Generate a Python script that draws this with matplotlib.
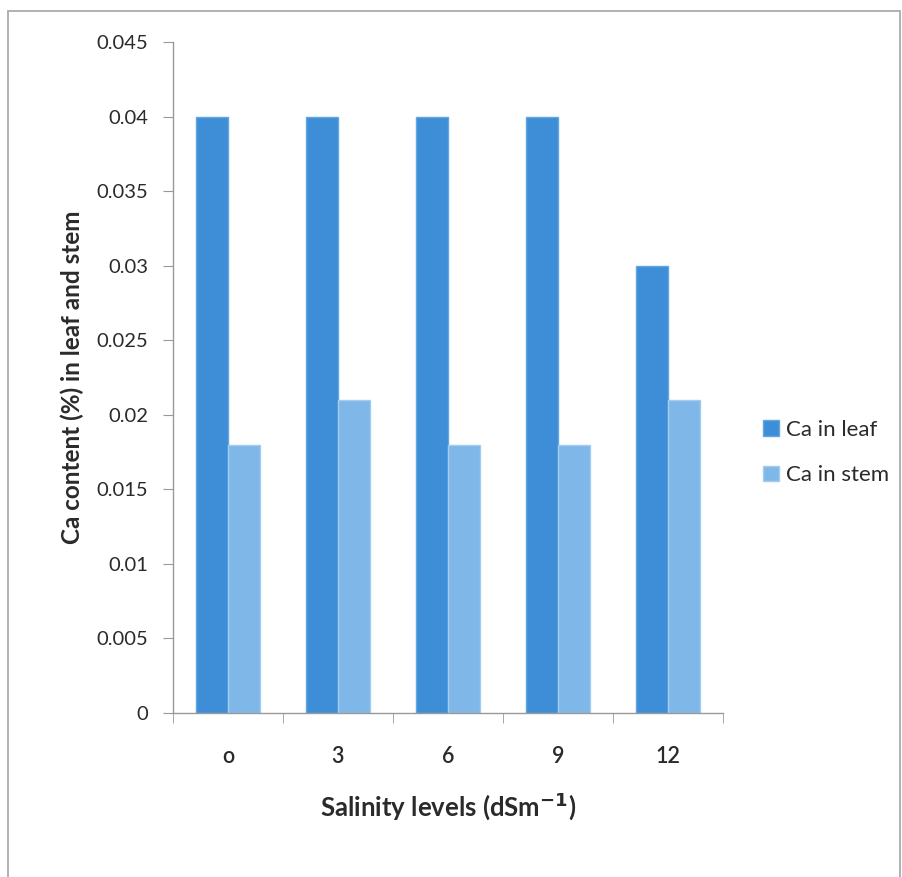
import matplotlib
matplotlib.use("Agg")
import matplotlib.pyplot as plt
import numpy as np
from matplotlib.patches import Rectangle

categories = ["o", "3", "6", "9", "12"]
ca_leaf = [0.04, 0.04, 0.04, 0.04, 0.03]
ca_stem = [0.018, 0.021, 0.018, 0.018, 0.021]
series_names = ["Ca in leaf", "Ca in stem"]
y_ticks = [0, 0.005, 0.01, 0.015, 0.02, 0.025, 0.03, 0.035, 0.04, 0.045]
y_tick_labels = ["0", "0.005", "0.01", "0.015", "0.02", "0.025", "0.03", "0.035", "0.04", "0.045"]

plt.rcParams["font.family"] = ["Lato", "DejaVu Sans"]
text_color = "#2a2a2a"

fig = plt.figure(figsize=(9.03, 8.77), dpi=100)
fig.patch.set_facecolor("white")

# light frame around the chart area
fig.add_artist(Rectangle((8 / 903, -2 / 877), 892 / 903, 868 / 877,
                         transform=fig.transFigure, fill=False,
                         edgecolor="#b0b0b0", linewidth=1.4))

ax = fig.add_axes([0.1916, 0.187, 0.609, 0.765])
x = np.arange(len(categories))
w = 0.29
leaf_color = "#3d8ed6"
stem_color = "#80b7e9"
ax.bar(x - w / 2, ca_leaf, width=w, color=leaf_color, edgecolor="#62a6e4", linewidth=1.0, label=series_names[0])
ax.bar(x + w / 2, ca_stem, width=w, color=stem_color, edgecolor="#a3ccf1", linewidth=1.0, label=series_names[1])

ax.set_xlim(-0.5, len(categories) - 0.5)
ax.set_ylim(0, 0.045)
ax.set_yticks(y_ticks)
ax.set_yticklabels(y_tick_labels)
ax.set_xticks(x)
ax.set_xticklabels(categories, fontweight="semibold")
ax.set_xticks(np.arange(-0.5, len(categories), 1.0), minor=True)
ax.tick_params(axis="x", which="major", length=0, pad=24, labelsize=15.5, labelcolor=text_color)
ax.tick_params(axis="x", which="minor", length=7, color="#999999", direction="out")
ax.tick_params(axis="y", length=7, color="#999999", direction="out", labelsize=14.5,
               labelcolor=text_color, pad=11)

for side in ["top", "right"]:
    ax.spines[side].set_visible(False)
for side in ["left", "bottom"]:
    ax.spines[side].set_color("#999999")
    ax.spines[side].set_linewidth(1.0)

ax.set_ylabel("Ca content (%) in leaf and stem", fontsize=17.5, fontweight="bold",
              color=text_color, labelpad=9)
ax.set_xlabel("Salinity levels (dSm$^{\\mathbf{-1}}$)", fontsize=18.5, fontweight="bold",
              color=text_color, labelpad=16)

ax.legend(loc="center left", bbox_to_anchor=(1.037, 0.388), frameon=False, fontsize=16,
          handlelength=0.7, handleheight=0.7, handletextpad=0.3, labelspacing=1.15,
          labelcolor=text_color)

fig.savefig("out.png", dpi=100, facecolor="white")
